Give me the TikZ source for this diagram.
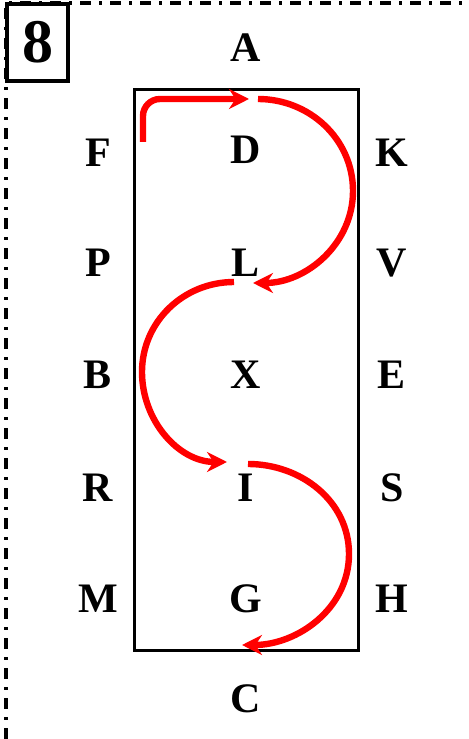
\documentclass[tikz,border=0pt]{standalone}
\usepackage{fontspec}
\setmainfont{Liberation Serif}
\usepackage{tikz}
\usetikzlibrary{arrows.meta}
\tikzstyle{letter} = [font=\fontsize{21}{24}\selectfont\bfseries, inner sep=0pt]
\tikzstyle{numbox} = [rectangle, draw=black, line width=1.6pt, minimum width=30.5pt, minimum height=38.5pt, font=\fontsize{31}{34}\selectfont\bfseries]
\tikzstyle{arena} = [draw=black, line width=1.5pt]
\tikzstyle{arrow} = [red, line width=3.2pt, -{Stealth[length=10pt,width=10pt]}]
\tikzstyle{border} = [line width=1.8pt, dash pattern=on 5.5pt off 4pt on 1.5pt off 4pt]

\begin{document}
\begin{tikzpicture}[x=0.5pt, y=0.5pt]
	\useasboundingbox (0,0) rectangle (469,739);
	\draw[border] (6,0) -- (6,736) -- (469,736);
	\node (num) at (37.5,696.5) [numbox] {8};
	\draw[arena] (134,88) rectangle (358,649);

	\node (A) at (246,691) [letter] {A};
	\node (D) at (246,589) [letter] {D};
	\node (L) at (246,476) [letter] {L};
	\node (X) at (246,364) [letter] {X};
	\node (I) at (246,251) [letter] {I};
	\node (G) at (246,140) [letter] {G};
	\node (C) at (246,40) [letter] {C};
	\node (F) at (98,586) [letter] {F};
	\node (P) at (98,476) [letter] {P};
	\node (B) at (98,364) [letter] {B};
	\node (R) at (98,251) [letter] {R};
	\node (M) at (98,140) [letter] {M};
	\node (K) at (392,586) [letter] {K};
	\node (V) at (392,476) [letter] {V};
	\node (E) at (392,364) [letter] {E};
	\node (S) at (392,251) [letter] {S};
	\node (H) at (392,140) [letter] {H};

	\coordinate (p0) at (143,597);
	\coordinate (p1) at (249,640);
	\coordinate (q0) at (258,640);
	\coordinate (q1) at (353,548);
	\coordinate (q2) at (253,456);
	\coordinate (r0) at (234,457);
	\coordinate (r1) at (142,367);
	\coordinate (r2) at (227,277);
	\coordinate (s0) at (248,275);
	\coordinate (s1) at (349,185);
	\coordinate (s2) at (242,94);

	\draw[arrow, rounded corners=8.5pt] (p0) |- (p1);
	\draw[arrow] (q0) to[out=0, in=90] (q1) to[out=-90, in=0] (q2);
	\draw[arrow] (r0) to[out=180, in=90] (r1) to[out=-90, in=180] (r2);
	\draw[arrow] (s0) to[out=0, in=90] (s1) to[out=-90, in=0] (s2);
\end{tikzpicture}
\end{document}
